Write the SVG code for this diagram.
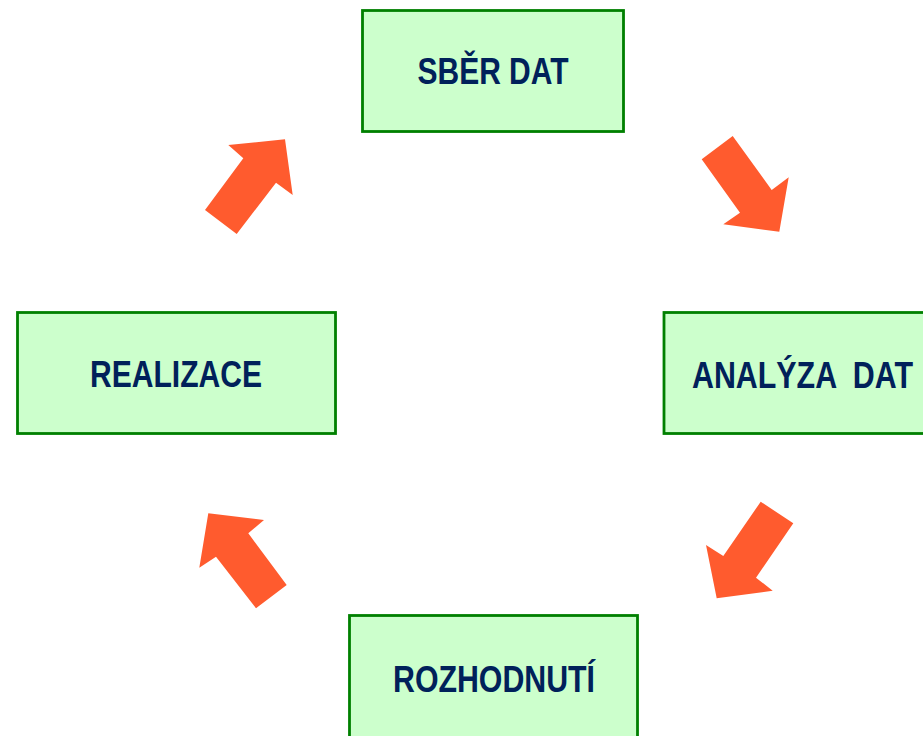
<svg xmlns="http://www.w3.org/2000/svg" width="923" height="736" viewBox="0 0 923 736">
  <style>
    .box { fill: #CCFFCC; stroke: #008000; stroke-width: 2.8; }
    .label { font-family: "Liberation Sans Narrow", "Liberation Sans", Arial, sans-serif; font-weight: bold; font-size: 36px; fill: #00215A; text-anchor: middle; }
    .arrow { fill: #FF5B2E; }
  </style>
  <rect width="923" height="736" fill="#FFFFFF"/>

  <g id="sber-dat">
    <rect class="box" x="362.5" y="10.5" width="261" height="121"/>
    <text class="label" x="493" y="84" textLength="151" lengthAdjust="spacingAndGlyphs">SBĚR DAT</text>
  </g>

  <g id="analyza-dat">
    <rect class="box" x="664" y="312.5" width="262" height="121"/>
    <text class="label" x="802.5" y="388" textLength="221" lengthAdjust="spacingAndGlyphs" xml:space="preserve">ANALÝZA  DAT</text>
  </g>

  <g id="rozhodnuti">
    <rect class="box" x="349.5" y="615.5" width="288" height="125"/>
    <text class="label" x="494" y="692" textLength="202" lengthAdjust="spacingAndGlyphs">ROZHODNUTÍ</text>
  </g>

  <g id="realizace">
    <rect class="box" x="17.5" y="312.5" width="318" height="121"/>
    <text class="label" x="176" y="387" textLength="172" lengthAdjust="spacingAndGlyphs">REALIZACE</text>
  </g>

  <g id="connectors">
    <!-- realizace -> sběr dat -->
    <polygon class="arrow" points="205,210 243.3,158.3 228.3,145 285,139.3 292.7,195 276,182.7 236.7,234"/>
    <!-- sběr dat -> analýza dat -->
    <polygon class="arrow" points="732.7,136 771.7,190 788.7,177.3 779.3,231.7 723.3,224.3 740,212.7 701.7,159.3"/>
    <!-- analýza dat -> rozhodnutí -->
    <polygon class="arrow" points="760.7,501.7 793.3,523.3 756,577.7 772.7,590.7 716.7,598.3 706,545 723.3,556"/>
    <!-- rozhodnutí -> realizace -->
    <polygon class="arrow" points="208.3,513.3 264,520 248.3,533.3 286.7,585 256,608.3 216,556.7 199.3,567.7"/>
  </g>
</svg>
